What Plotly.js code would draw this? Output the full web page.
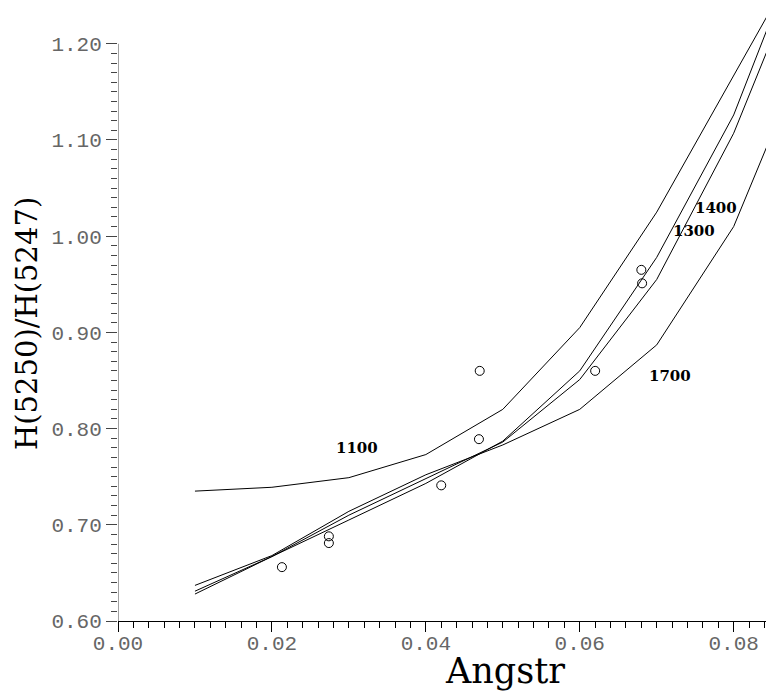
<!DOCTYPE html>
<html>
<head>
<meta charset="utf-8">
<script src="https://cdn.plot.ly/plotly-3.0.1.min.js"></script>
<style>html,body{margin:0;padding:0;background:#fff;}#chart{width:766px;height:691px;}</style>
</head>
<body>
<div id="chart"></div>
<script>
// Model curves (knots at these x values)
var xModel = [0.01, 0.02, 0.03, 0.04, 0.05, 0.06, 0.07, 0.08, 0.09];
var y1100 = [0.735, 0.739, 0.749, 0.773, 0.820, 0.905, 1.025, 1.167, 1.309];
var y1300 = [0.628, 0.667, 0.705, 0.743, 0.787, 0.860, 0.978, 1.126, 1.331];
var y1400 = [0.631, 0.667, 0.710, 0.748, 0.786, 0.851, 0.955, 1.107, 1.304];
var y1700 = [0.637, 0.668, 0.714, 0.752, 0.783, 0.820, 0.887, 1.010, 1.203];

// Observed points
var xObs = [0.0213, 0.0274, 0.0274, 0.0420, 0.0470, 0.0469, 0.0620, 0.0680, 0.0681];
var yObs = [0.656, 0.688, 0.681, 0.741, 0.860, 0.789, 0.860, 0.965, 0.951];

// Curve labels
var labelText = ['1100', '1300', '1400', '1700'];
var labelX = [0.0311, 0.0749, 0.0777, 0.0717];
var labelY = [0.7795, 1.005, 1.029, 0.8544];

// Axis titles
var xTitle = 'Angstr';
var yTitle = 'H(5250)/H(5247)';

// Ticks
var xTickVals = [0.00, 0.02, 0.04, 0.06, 0.08];
var xTickText = ['0.00', '0.02', '0.04', '0.06', '0.08'];
var yTickVals = [0.6, 0.7, 0.8, 0.9, 1.0, 1.1, 1.2];
var yTickText = ['0.60', '0.70', '0.80', '0.90', '1.00', '1.10', '1.20'];
var yMinorVals = [];
for (var i = 61; i < 120; i++) { if (i % 10 !== 0) yMinorVals.push(i / 100); }

var lineStyle = {color: '#000', width: 1};
var traces = [y1100, y1300, y1400, y1700].map(function (ys) {
  return {x: xModel, y: ys, mode: 'lines', type: 'scatter', line: lineStyle, hoverinfo: 'skip'};
});
traces.push({
  x: xObs, y: yObs, mode: 'markers', type: 'scatter',
  marker: {symbol: 'circle-open', size: 9, color: '#000', line: {width: 1, color: '#000'}}
});

var tickFont = {family: 'Liberation Mono, DejaVu Sans Mono, monospace', size: 21, color: '#666'};

var annotations = labelText.map(function (t, k) {
  return {x: labelX[k], y: labelY[k], xref: 'x', yref: 'y', text: t, showarrow: false,
    font: {family: 'DejaVu Serif, serif', size: 15, color: '#000', weight: 'bold'}};
});
annotations.push({x: 0.597, y: -0.081, xref: 'paper', yref: 'paper', text: xTitle, showarrow: false,
  xanchor: 'center', yanchor: 'middle',
  font: {family: 'DejaVu Serif, serif', size: 35, color: '#000'}});
annotations.push({x: -0.1404, y: 0.4783, xref: 'paper', yref: 'paper', text: yTitle, showarrow: false,
  textangle: -90, xanchor: 'center', yanchor: 'middle',
  font: {family: 'DejaVu Serif, serif', size: 29, color: '#000'}});

var layout = {
  width: 766, height: 691,
  margin: {l: 118, r: 0, t: 0, b: 70},
  paper_bgcolor: '#fff', plot_bgcolor: '#fff',
  showlegend: false,
  xaxis: {
    range: [0, 0.0842],
    tickmode: 'array', tickvals: xTickVals, ticktext: xTickText,
    ticks: 'outside', ticklen: 10, tickwidth: 1, tickcolor: '#000',
    ticklabelstandoff: -7,
    minor: {tickmode: 'linear', tick0: 0, dtick: 0.002, ticks: 'outside', ticklen: 6, tickwidth: 1, tickcolor: '#000', showgrid: false},
    showline: true, linecolor: '#000', linewidth: 1,
    showgrid: false, zeroline: false,
    tickfont: tickFont
  },
  yaxis: {
    range: [0.6, 1.2455],
    tickmode: 'array', tickvals: yTickVals, ticktext: yTickText,
    ticks: 'outside', ticklen: 11, tickwidth: 1, tickcolor: '#444',
    minor: {tickmode: 'array', tickvals: yMinorVals, ticks: 'outside', ticklen: 6, tickwidth: 1, tickcolor: '#444', showgrid: false},
    showline: false,
    showgrid: false, zeroline: false,
    tickfont: tickFont
  },
  shapes: [{type: 'line', xref: 'x', yref: 'y', x0: 0, x1: 0, y0: 0.6, y1: 1.2, line: {color: '#444', width: 1}}],
  annotations: annotations
};

Plotly.newPlot('chart', traces, layout, {displayModeBar: false, staticPlot: true});
</script>
</body>
</html>
